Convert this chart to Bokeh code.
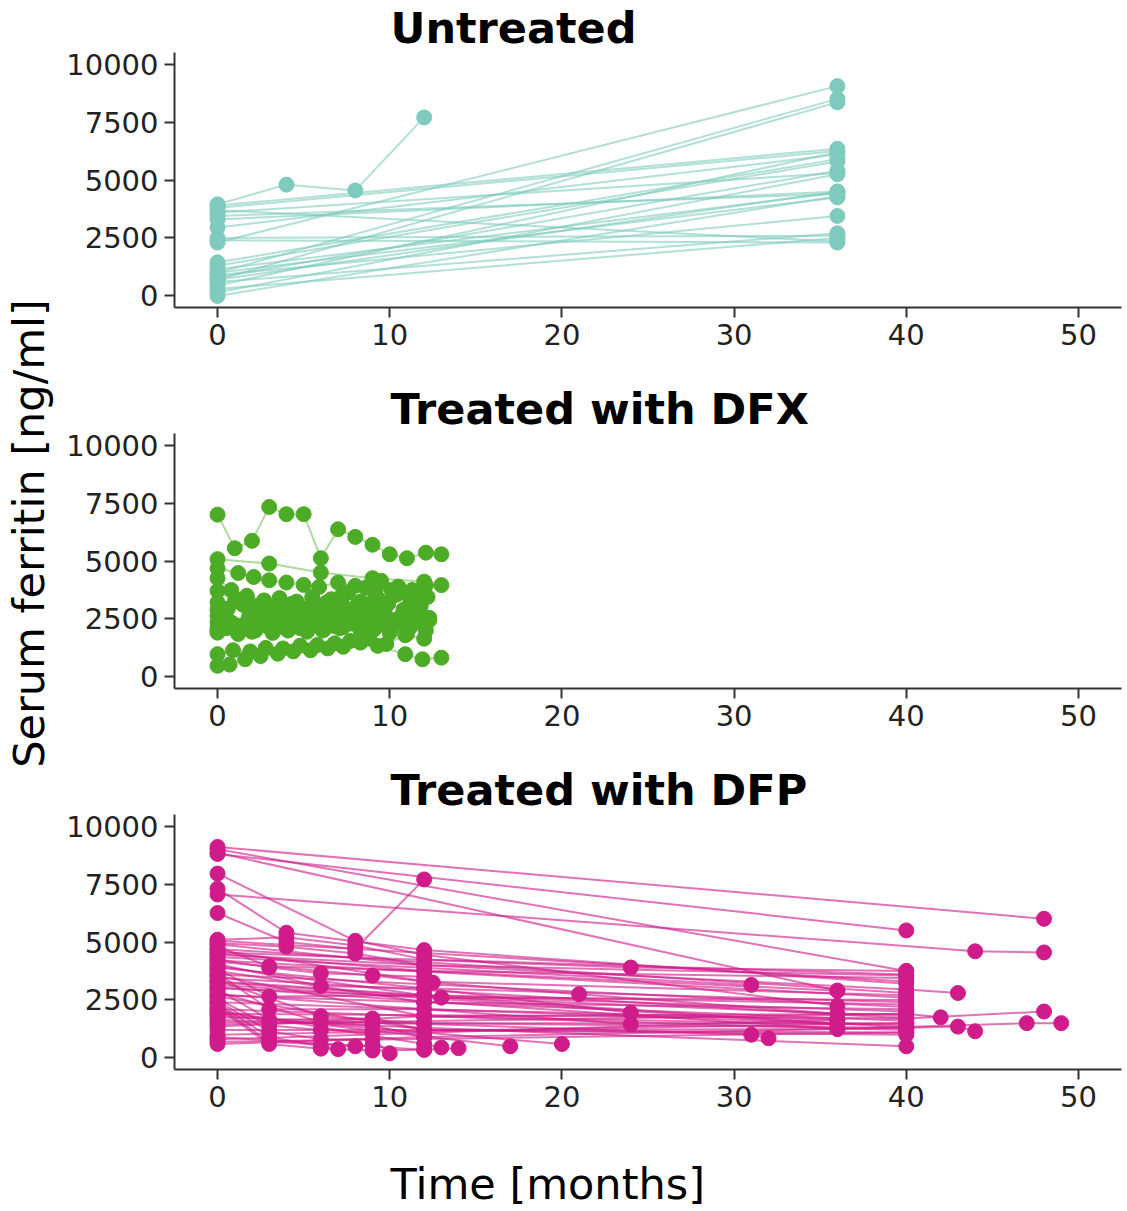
import math

from bokeh.core.properties import value
from bokeh.embed import file_html
from bokeh.layouts import column, row
from bokeh.models import Range1d
from bokeh.plotting import figure
from bokeh.resources import INLINE

# ---------------------------------------------------------------- labels
panel_titles = ["Untreated", "Treated with DFX", "Treated with DFP"]
x_label = "Time [months]"
y_label = "Serum ferritin [ng/ml]"
x_ticks = [0, 10, 20, 30, 40, 50]
y_ticks = [0, 2500, 5000, 7500, 10000]
group_colors = ["#7ecbbd", "#4dac26", "#d01c8b"]

# ---------------------------------------------------------------- untreated
# baseline (month 0) and follow-up (month 36) ferritin per patient
untreated_baseline = [2300, 1000, 700, 3900, 3800, 3600, 3450, 3300, 2950, 2500, 2400, 1450,
                      1300, 1150, 1000, 900, 800, 700, 600, 450, 300, 150, 0, 3700]
untreated_month36 = [9050, 8500, 8350, 6350, 6250, 5300, 4400, 4500, 6100, 2600, 2300, 5900,
                     5800, 4450, 4250, 3450, 5400, 4500, 2700, 6200, 2500, 5250, 4300, 2350]
# one patient followed every four months
untreated_extra_months = [0, 4, 8, 12]
untreated_extra_values = [3950, 4800, 4550, 7700]

# ---------------------------------------------------------------- DFX
# visit times (months) and ferritin per patient
dfx_months = [
    [0, 1.0, 2.0, 3.0, 4.0, 5.0, 6.0, 7.0, 8.0, 9.0, 10.0, 11.0, 12.1, 13.0],
    [0, 3, 6, 9, 12],
    [0, 1.2, 2.1, 3.0, 4.0, 5.0, 5.9, 7.0, 8.0, 9.2, 10.1, 11.0, 12.1, 13.0],
    [0, 0.8, 1.7, 2.7, 3.6, 4.6, 5.5, 6.6, 7.6, 8.6, 9.5, 10.5, 11.6],
    [0, 1.0, 2.2, 3.2, 4.3, 5.2, 6.3, 7.2, 8.3, 9.3, 10.4, 11.3, 12.2],
    [0, 0.6, 1.5, 2.4, 3.4, 4.3, 5.3, 6.2, 7.2, 8.1, 9.1, 10.2, 11.2],
    [0, 1.1, 2.0, 2.9, 3.9, 4.9, 6.0, 6.9, 7.9, 8.9, 9.9, 10.8, 11.8],
    [0, 0.7, 1.8, 2.8, 3.7, 4.7, 5.7, 6.7, 7.8, 8.7, 9.7, 10.7, 11.7],
    [0, 1.3, 2.3, 3.3, 4.4, 5.4, 6.4, 7.5, 8.4, 9.4, 10.3, 11.4, 12.3],
    [0, 0.9, 1.9, 2.9, 3.8, 4.8, 5.8, 6.8, 7.8, 8.8, 9.8, 10.8, 11.9],
    [0, 1.0, 2.0, 3.1, 4.1, 5.1, 6.1, 7.1, 8.2, 9.1, 10.0, 11.1, 12.1],
    [0, 0.5, 1.4, 2.3, 3.3, 4.2, 5.2, 6.1, 7.1, 8.0, 9.0, 10.0, 11.0],
    [0, 1.2, 2.2, 3.2, 4.2, 5.2, 6.2, 7.3, 8.3, 9.3, 10.2, 11.2, 12.3],
    [0, 0.7, 1.6, 2.5, 3.5, 4.4, 5.4, 6.4, 7.3, 8.3, 9.3, 10.9, 11.9, 13.0],
    [0, 0.9, 1.9, 2.8, 3.8, 4.8, 5.8, 6.8, 7.7, 8.8, 9.8, 10.9, 12.0],
]
dfx_values = [
    [7000, 5550, 5870, 7330, 7020, 7020, 5120, 6370, 6040, 5700, 5290, 5120, 5360, 5290],
    [5080, 4890, 4500, 4260, 4110],
    [4690, 4480, 4310, 4170, 4070, 3970, 3880, 4070, 3930, 3800, 3750, 3600, 3950, 3960],
    [4260, 3750, 3500, 3300, 3400, 3250, 3450, 3350, 3650, 3850, 4150, 3900, 3700],
    [3710, 3250, 3050, 2900, 3150, 2950, 3200, 3500, 3250, 3400, 3550, 3750, 3450],
    [3210, 2950, 3100, 2800, 2950, 3100, 2850, 3000, 3250, 3100, 3350, 3500, 3250],
    [2920, 3350, 2750, 2600, 2800, 2700, 2950, 2800, 2700, 3000, 3150, 2900, 3050],
    [2630, 2400, 2550, 2700, 2500, 2650, 2450, 2600, 2850, 2750, 2900, 2650, 2850],
    [2350, 2200, 2350, 2150, 2300, 2450, 2300, 2500, 2400, 2600, 2450, 2750, 2550],
    [2130, 2300, 2050, 2200, 2150, 2100, 2350, 2200, 2300, 2150, 2400, 2250, 2350],
    [1910, 2050, 1950, 2050, 2000, 2150, 2000, 2100, 2250, 2050, 1900, 2100, 2000],
    [1980, 2100, 2200, 2400, 2250, 2350, 2550, 2400, 2350, 2500, 2200, 2000, 1850],
    [2000, 1850, 2000, 1900, 2100, 1950, 2050, 2150, 2000, 2250, 2350, 2150, 2450],
    [480, 530, 760, 900, 1000, 1100, 1150, 1230, 1300, 1480, 1340, 980, 760, 830],
    [980, 1150, 1100, 1250, 1230, 1350, 1380, 1450, 1550, 1650, 1420, 1800, 1650],
]

# ---------------------------------------------------------------- DFP
dfp_months = [
    [0, 48], [0, 40], [0, 40], [0, 36], [0, 44, 48], [0, 4, 12, 40], [0, 4, 8, 12],
    [0, 8, 12, 36], [0, 4, 8, 12, 40], [0, 4, 8, 12], [0, 3, 12, 40], [0, 12.5, 21, 36],
    [0, 24, 40], [0, 40, 43], [0, 31], [0, 3, 6, 12], [0, 9, 12, 40], [0, 6, 12, 24],
    [0, 13, 40], [0, 3, 12, 40], [0, 12, 40], [0, 3, 12, 36], [0, 12, 40, 42], [0, 40, 48],
    [0, 6, 12, 40], [0, 40, 43, 44], [0, 36], [0, 36, 47, 49], [0, 3, 9, 12, 36],
    [0, 6, 9, 12], [0, 24], [0, 12, 40], [0, 3, 6, 9], [0, 3, 6, 9, 10], [0, 3, 6, 7],
    [0, 3, 8, 9], [0, 3, 6, 9, 12, 14], [0, 12, 13], [0, 17], [0, 20], [0, 31, 32],
    [0, 40], [0, 12, 40], [0, 40], [0, 12, 36],
    [0, 40], [0, 12, 40], [0, 40], [0, 12, 36], [0, 40], [0, 12, 40], [0, 40], [0, 12, 40],
    [0, 40], [0, 12, 40], [0, 40], [0, 12, 40], [0, 40], [0, 12, 40], [0, 40], [0, 12],
    [0, 36], [0, 40], [0, 12, 40],
]
dfp_values = [
    [9100, 6000], [8800, 5500], [9000, 3750], [8850, 2900], [7050, 4600, 4550],
    [7300, 5400, 4650, 3200], [6250, 5000, 4700, 7700], [7950, 5050, 4450, 2250],
    [5100, 5200, 4850, 4250, 3600], [4950, 4800, 4500, 4000], [4800, 3950, 3750, 3450],
    [4650, 3250, 2750, 1900], [4550, 3900, 3750], [4450, 2950, 2800], [4350, 3150],
    [4250, 3900, 3650, 3500], [4150, 3550, 3300, 2700], [4050, 3100, 3000, 1950],
    [3950, 2600, 2500], [3850, 2650, 2700, 2300], [3750, 2400, 2100], [3650, 2100, 2100, 1650],
    [3550, 1800, 1900, 1750], [3450, 1700, 2000], [3350, 1800, 1500, 1500],
    [3250, 1300, 1350, 1150], [3150, 1450], [3050, 1250, 1500, 1500],
    [2950, 1650, 1700, 1200, 1250], [2850, 1550, 1400, 900], [2750, 1450], [2650, 1200, 1100],
    [2550, 1400, 1200, 1100], [2450, 1150, 800, 800, 200], [2350, 900, 500, 380],
    [2250, 700, 500, 550], [2150, 600, 400, 320, 350, 420], [2050, 600, 450], [1950, 500],
    [1850, 600], [1750, 1000, 850], [1650, 500], [1550, 1500, 1300], [1450, 1900],
    [1350, 1800, 1450],
    [5050, 3300], [4900, 4000, 3550], [4700, 2800], [4500, 3750, 2900], [4200, 2600],
    [3900, 3000, 2400], [3600, 2200], [3300, 2700, 2000], [3000, 1800], [2700, 2400, 1600],
    [2400, 1400], [2100, 1800, 1200], [1900, 1700], [1200, 1200, 1000], [1000, 1500],
    [900, 350], [800, 1650], [700, 1100], [600, 900, 1300],
]

# ---------------------------------------------------------------- layout sizes
LEFT_W = 60
PANEL_W = 1127 - LEFT_W
PANEL_H = 381
BOTTOM_H = 68
TOTAL_H = 3 * PANEL_H + BOTTOM_H
BORDER_L = 114
BORDER_R = 6
BORDER_T = 52
FONT = "DejaVu Sans"
TEXT_X = 390 - LEFT_W - BORDER_L      # text start, measured from the frame's left edge


def text_strip(width, height, txt, x, y, size, style="normal", angle=0.0,
               align="left", baseline="alphabetic", border_l=0, border_r=0):
    inner = width - border_l - border_r
    s = figure(width=width, height=height, x_range=Range1d(0, inner), y_range=Range1d(0, height),
               output_backend="svg", toolbar_location=None,
               x_axis_location=None, y_axis_location=None, min_border=0,
               min_border_left=border_l, min_border_right=border_r,
               min_border_top=0, min_border_bottom=0)
    s.grid.visible = False
    s.outline_line_color = None
    s.text(x=[x], y=[y], text=[txt], text_font=value(FONT), text_font_size=value(size),
           text_font_style=style, angle=angle, text_align=align, text_baseline=baseline,
           text_color="#000000")
    return s


def panel(title, months, values, color, line_alpha, line_width):
    p = figure(width=PANEL_W, height=PANEL_H,
               x_range=Range1d(-2.5, 52.5), y_range=Range1d(-500, 10500),
               output_backend="svg", toolbar_location=None,
               min_border_left=BORDER_L, min_border_right=BORDER_R,
               min_border_top=BORDER_T, min_border_bottom=74)
    p.title.text = title
    p.title.text_font = FONT
    p.title.text_font_size = "43px"
    p.title.text_font_style = "bold"
    p.title.text_color = "#000000"
    p.title.align = "left"
    p.title.offset = TEXT_X
    p.title.standoff = 0

    p.multi_line(xs=months, ys=values, line_color=color, line_alpha=line_alpha,
                 line_width=line_width)
    px = [m for ms in months for m in ms]
    py = [v for vs in values for v in vs]
    p.scatter(px, py, size=15, fill_color=color, line_color=color, line_width=1)

    p.grid.visible = False
    p.outline_line_color = None
    for ax in p.axis:
        ax.axis_line_width = 2
        ax.axis_line_color = "#333333"
        ax.major_tick_line_color = "#333333"
        ax.major_tick_line_width = 2
        ax.major_tick_out = 10
        ax.major_tick_in = 0
        ax.minor_tick_line_color = None
        ax.major_label_text_font = FONT
        ax.major_label_text_font_size = "29px"
        ax.major_label_text_color = "#222222"
    p.xaxis.ticker = x_ticks
    p.yaxis.ticker = y_ticks
    p.xaxis.major_label_standoff = 6
    p.yaxis.major_label_standoff = 6
    return p


untreated_months = [[0, 36] for _ in untreated_baseline] + [untreated_extra_months]
untreated_values = [[a, b] for a, b in zip(untreated_baseline, untreated_month36)] + \
                   [untreated_extra_values]

p1 = panel(panel_titles[0], untreated_months, untreated_values, group_colors[0], 0.6, 2)
p2 = panel(panel_titles[1], dfx_months, dfx_values, group_colors[1], 0.45, 2)
p3 = panel(panel_titles[2], dfp_months, dfp_values, group_colors[2], 0.62, 2)

xlab = text_strip(PANEL_W, BOTTOM_H, x_label, TEXT_X, 28, "43px",
                  border_l=BORDER_L, border_r=BORDER_R)
ylab = text_strip(LEFT_W, TOTAL_H, y_label, 28, TOTAL_H - 533, "43px",
                  angle=math.pi / 2, align="center", baseline="middle")

right = column(p1, p2, p3, xlab, spacing=0)
layout = row(ylab, right, spacing=0)

open("out.html", "w").write(file_html(layout, INLINE))
